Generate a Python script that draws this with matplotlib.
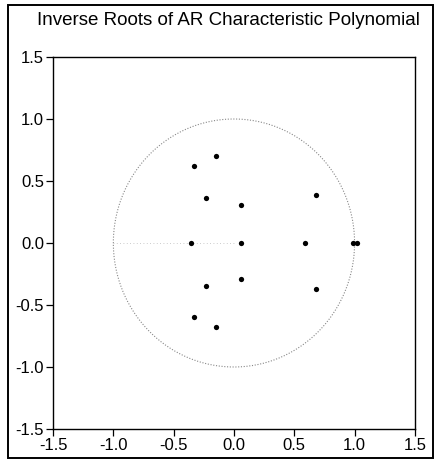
import numpy as np
import matplotlib.pyplot as plt
from matplotlib.patches import Rectangle

root_re = [-0.36, 0.06, 0.59, 0.99, 1.02,
           -0.15, -0.33, -0.23, 0.06, 0.68,
           -0.15, -0.33, -0.23, 0.06, 0.68]
root_im = [0.0, 0.0, 0.0, 0.0, 0.0,
           0.70, 0.62, 0.365, 0.31, 0.385,
           -0.68, -0.60, -0.35, -0.29, -0.37]
tick_vals = [-1.5, -1.0, -0.5, 0.0, 0.5, 1.0, 1.5]
tick_labels = ["-1.5", "-1.0", "-0.5", "0.0", "0.5", "1.0", "1.5"]

plt.rcParams['font.family'] = ['Liberation Sans', 'DejaVu Sans']

fig = plt.figure(figsize=(4.36, 4.61), dpi=100)
ax = fig.add_axes([0.1216, 0.0694, 0.830, 0.807])

# unit circle
t = np.linspace(0, 2 * np.pi, 400)
ax.plot(np.cos(t), np.sin(t), color="#888888", lw=0.8, ls=(0, (1, 1.5)))
ax.plot([-1.0, 0.0], [0, 0], color="#bbbbbb", lw=0.6, ls=(0, (1, 3)))

ax.plot(root_re, root_im, "o", color="black", markersize=3.8, markeredgewidth=0)

ax.set_xlim(-1.5, 1.5)
ax.set_ylim(-1.5, 1.5)
ax.set_xticks(tick_vals)
ax.set_xticklabels(tick_labels)
ax.set_yticks(tick_vals)
ax.set_yticklabels(tick_labels)
ax.tick_params(direction="out", length=5, width=0.9, labelsize=12, pad=1.5)
for s in ax.spines.values():
    s.set_linewidth(1.0)

fig.text(0.525, 0.956, "Inverse Roots of AR Characteristic Polynomial",
         ha="center", va="center", fontsize=13.5)

# outer frame around the whole picture
fig.patches.append(Rectangle((0.018, 0.007), 0.975, 0.983, transform=fig.transFigure,
                             fill=False, edgecolor="black", lw=1.4))

fig.savefig("out.png", dpi=100)
